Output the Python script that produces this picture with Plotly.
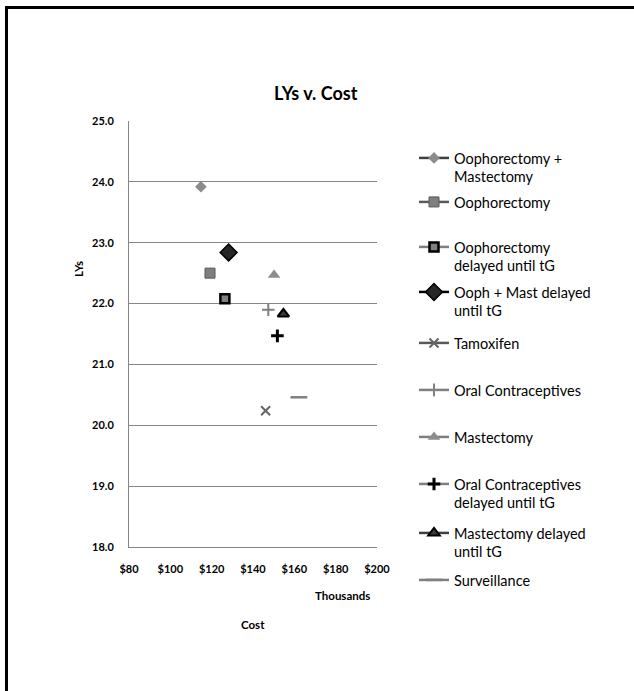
import plotly.graph_objects as go

# ---- data ----
names = [
    "Oophorectomy +<br>Mastectomy",
    "Oophorectomy",
    "Oophorectomy<br>delayed until tG",
    "Ooph + Mast delayed<br>until tG",
    "Tamoxifen",
    "Oral Contraceptives",
    "Mastectomy",
    "Oral Contraceptives<br>delayed until tG",
    "Mastectomy delayed<br>until tG",
    "Surveillance",
]
cost_thousands = [114.8, 119.2, 126.4, 128.2, 146.1, 147.4, 150.2, 151.8, 154.7, 162.2]
lys = [23.92, 22.50, 22.08, 22.84, 20.24, 21.90, 22.47, 21.47, 21.83, 20.46]

x_ticks = [80, 100, 120, 140, 160, 180, 200]
y_ticks = [18, 19, 20, 21, 22, 23, 24, 25]

# ---- styles ----
styles = [
    dict(symbol="diamond", size=9, color="#8c8c8c", lc="#8c8c8c", lw=0, line="#404040"),
    dict(symbol="square", size=10, color="#7f7f7f", lc="#595959", lw=1, line="#595959"),
    dict(symbol="square", size=9, color="#808080", lc="#000000", lw=2.5, line="#7f7f7f"),
    dict(symbol="diamond", size=13, color="#262626", lc="#000000", lw=1.5, line="#000000"),
    dict(symbol="x-thin-open", size=9, color="#666666", lc="#666666", lw=2, line="#595959"),
    dict(symbol="cross-thin-open", size=9, color="#808080", lc="#808080", lw=2, line="#7f7f7f"),
    dict(symbol="triangle-up", size=11, color="#8c8c8c", lc="#8c8c8c", lw=0, line="#7f7f7f"),
    dict(symbol="cross-thin-open", size=9, color="#000000", lc="#000000", lw=3, line="#7f7f7f"),
    dict(symbol="triangle-up", size=10, color="#3a3a3a", lc="#000000", lw=2, line="#404040"),
    dict(symbol="line-ew-open", size=12, color="#7f7f7f", lc="#7f7f7f", lw=2.5, line="#7f7f7f"),
]

W, H = 634, 691
L, R, T, B = 129, 377, 121, 547


def px_x(p):
    return (p - L) / (R - L)


def px_y(p):
    return (B - p) / (B - T)


legend_first_line_y = [159, 203, 248, 293, 344, 391, 438, 485, 534, 581]

fig = go.Figure()
layout_legends = {}
for i, (n, cx, ly, st) in enumerate(zip(names, cost_thousands, lys, styles)):
    lname = "legend" if i == 0 else f"legend{i+1}"
    fig.add_trace(go.Scatter(
        x=[cx], y=[ly], name=n, mode="lines+markers",
        line=dict(color=st["line"], width=2.5),
        marker=dict(symbol=st["symbol"], size=st["size"], color=st["color"],
                    line=dict(color=st["lc"], width=st["lw"])),
        legend=lname, showlegend=True,
    ))
    layout_legends[lname] = dict(
        x=px_x(414), y=px_y(legend_first_line_y[i] - 17),
        xanchor="left", yanchor="top", valign="top",
        font=dict(family="Lato", size=14.5, color="#000000"),
        bgcolor="rgba(0,0,0,0)", borderwidth=0, itemwidth=30,
        tracegroupgap=0,
    )

fig.update_layout(
    width=W, height=H,
    margin=dict(l=L, r=W - R, t=T, b=H - B),
    paper_bgcolor="white", plot_bgcolor="white",
    font=dict(family="Lato", color="#000000"),
    showlegend=True,
    **layout_legends,
)

fig.update_xaxes(
    range=[80, 200], tickvals=x_ticks, ticktext=[f"${v}" for v in x_ticks],
    showgrid=False, zeroline=False, showline=True, linecolor="#868686", linewidth=1,
    ticks="", ticklabelstandoff=12,
    tickfont=dict(family="Lato", size=11, color="#000000", weight="bold"),
)
fig.update_yaxes(
    range=[18, 25], tickvals=y_ticks, ticktext=[f"{v:.1f}" for v in y_ticks],
    showgrid=True, gridcolor="#868686", gridwidth=1,
    zeroline=False, showline=True, linecolor="#868686", linewidth=1,
    ticks="", ticklabelstandoff=12,
    tickfont=dict(family="Lato", size=11, color="#000000", weight="bold"),
)

# titles
ann = dict(xref="paper", yref="paper", showarrow=False, xanchor="center", yanchor="middle")
fig.add_annotation(text="<b>LYs v. Cost</b>", x=px_x(316), y=px_y(93),
                   font=dict(family="Lato", size=18, color="#000000"), **ann)
fig.add_annotation(text="<b>LYs</b>", x=px_x(78), y=px_y(269), textangle=-90,
                   font=dict(family="Lato", size=11.5, color="#000000"), **ann)
fig.add_annotation(text="<b>Thousands</b>", x=px_x(342), y=px_y(595),
                   font=dict(family="Lato", size=11.5, color="#000000"), **ann)
fig.add_annotation(text="<b>Cost</b>", x=px_x(252.5), y=px_y(624),
                   font=dict(family="Lato", size=11.5, color="#000000"), **ann)

# outer frame (right and bottom edges lie outside the picture)
fig.add_shape(type="line", xref="paper", yref="paper",
              x0=px_x(6.5), y0=px_y(7.5), x1=px_x(6.5), y1=px_y(720),
              line=dict(color="#000000", width=3))
fig.add_shape(type="line", xref="paper", yref="paper",
              x0=px_x(5), y0=px_y(7.5), x1=px_x(660), y1=px_y(7.5),
              line=dict(color="#000000", width=3))

fig.write_html(
    "out.html",
    config={"displayModeBar": False},
    post_script="document.body.style.margin='0';document.body.style.overflow='hidden';",
)
